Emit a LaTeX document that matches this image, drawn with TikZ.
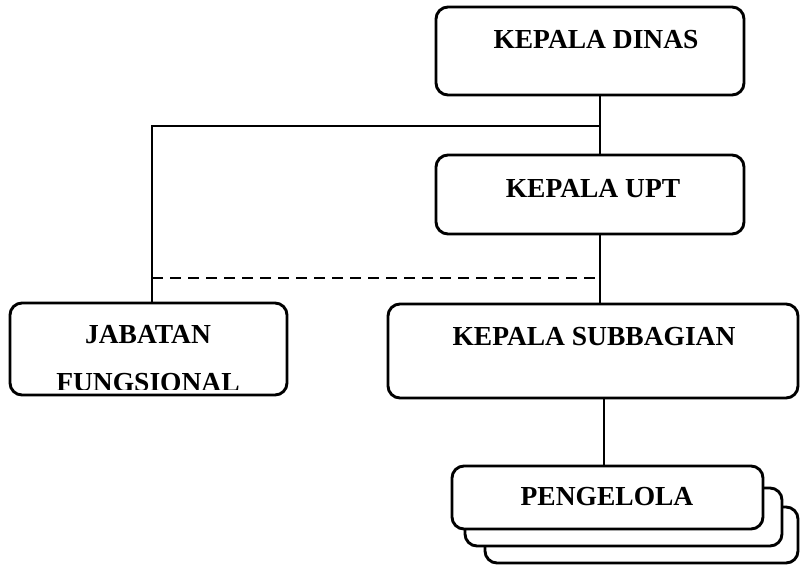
\documentclass[tikz,border=0pt]{standalone}
\usepackage{fontspec}
\setmainfont{Liberation Serif}
\begin{document}
\begin{tikzpicture}[x=1pt,y=-1pt,
  box/.style={draw=black,line width=2.9pt,rounded corners=12pt,fill=white,rectangle,inner sep=0pt},
  lbl/.style={font=\fontsize{27.5}{32}\selectfont\bfseries,inner sep=0pt,anchor=base,align=center},
  conn/.style={line width=2.5pt},
  dashconn/.style={line width=2.5pt,dash pattern=on 11pt off 7pt}]
\useasboundingbox (0,0) rectangle (802,565);
% boxes
\node[box,minimum width=308pt,minimum height=88pt] (kd) at (590,51) {};
\node[box,minimum width=308pt,minimum height=79pt] (ku) at (590,194.5) {};
\node[box,minimum width=277pt,minimum height=92pt] (jf) at (148.5,349) {};
\node[box,minimum width=410pt,minimum height=94pt] (ks) at (593,351) {};
\node[box,minimum width=313pt,minimum height=56pt] (p3) at (641.5,535) {};
\node[box,minimum width=317pt,minimum height=58pt] (p2) at (623.5,517) {};
\node[box,minimum width=311pt,minimum height=63pt] (p1) at (607.5,497.5) {};
% labels
\node[lbl] (tkd) at (596,48) {KEPALA DINAS};
\node[lbl] (tku) at (593,197) {KEPALA UPT};
\node[lbl] (tks) at (594,345) {KEPALA SUBBAGIAN};
\node[lbl] (tp) at (607,505) {PENGELOLA};
\node[lbl] (tjf1) at (148,343) {JABATAN};
\begin{scope}
\clip (20,350) rectangle (280,389.5);
\node[lbl] (tjf2) at (148,391) {FUNGSIONAL};
\end{scope}
% connector guides
\coordinate (cx) at (600,126);
\coordinate (cl) at (152,126);
\coordinate (dl) at (152,278);
\coordinate (dr) at (600,278);
\coordinate (lx) at (604,0);
% connectors
\draw[conn] (kd.south -| cx) -- (ku.north -| cx);
\draw[conn] (cx) -- (cl) -- (jf.north -| cl);
\draw[conn] (ku.south -| cx) -- (ks.north -| cx);
\draw[dashconn] (dl) -- (dr);
\draw[conn] (ks.south -| lx) -- (p1.north -| lx);
\end{tikzpicture}
\end{document}
